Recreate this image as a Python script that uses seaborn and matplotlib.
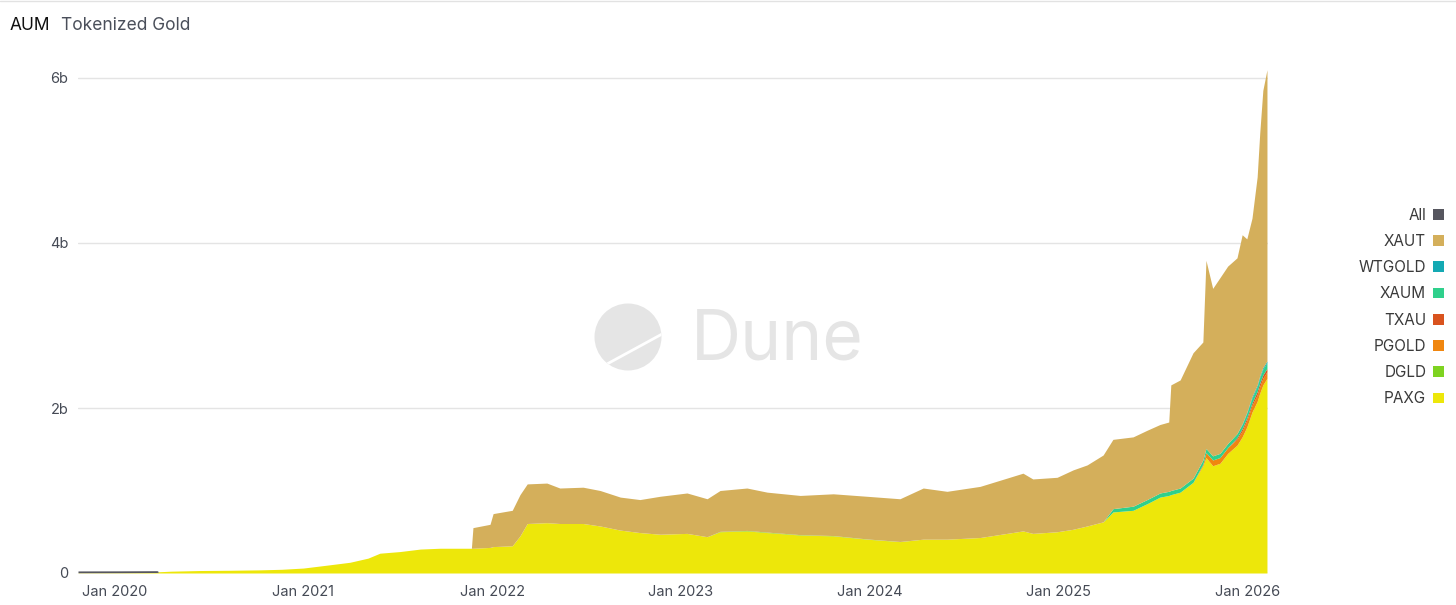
import pandas as pd
import numpy as np
import matplotlib
matplotlib.use("Agg")
import matplotlib.pyplot as plt
import seaborn as sns
from matplotlib.patches import Patch, Circle
from matplotlib.lines import Line2D

# ---------------- data (values in billions USD) ----------------
dates = ["2019-10-23", "2020-01-12", "2020-03-24", "2020-03-27", "2020-04-20", "2020-06-15",
         "2020-08-12", "2020-10-09", "2020-11-20", "2021-01-01", "2021-02-22", "2021-04-01",
         "2021-05-06", "2021-05-29", "2021-07-07", "2021-08-15", "2021-09-22", "2021-11-22",
         "2021-11-25", "2021-12-28", "2022-01-03", "2022-02-09", "2022-02-24", "2022-03-10",
         "2022-04-17", "2022-05-12", "2022-06-26", "2022-07-29", "2022-09-06", "2022-10-14",
         "2022-11-22", "2023-01-13", "2023-02-21", "2023-03-18", "2023-05-09", "2023-06-17",
         "2023-08-20", "2023-10-23", "2023-12-27", "2024-02-29", "2024-04-14", "2024-05-30",
         "2024-08-02", "2024-09-23", "2024-10-24", "2024-11-12", "2024-12-29", "2025-01-29",
         "2025-02-25", "2025-03-28", "2025-04-16", "2025-05-25", "2025-06-21", "2025-07-16",
         "2025-08-02", "2025-08-06", "2025-08-24", "2025-09-18", "2025-10-07", "2025-10-13",
         "2025-10-26", "2025-11-09", "2025-11-24", "2025-12-12", "2025-12-22", "2025-12-31",
         "2026-01-10", "2026-01-20", "2026-01-25", "2026-01-31", "2026-02-08"]

paxg = [0.003, 0.004, 0.006, 0.015, 0.022, 0.030,
        0.033, 0.038, 0.045, 0.060, 0.10, 0.13,
        0.18, 0.24, 0.26, 0.29, 0.30, 0.30,
        0.30, 0.31, 0.32, 0.33, 0.45, 0.60,
        0.61, 0.60, 0.60, 0.57, 0.52, 0.49,
        0.47, 0.48, 0.44, 0.50, 0.51, 0.49,
        0.46, 0.45, 0.41, 0.38, 0.41, 0.41,
        0.43, 0.48, 0.51, 0.48, 0.50, 0.53,
        0.57, 0.62, 0.74, 0.76, 0.84, 0.92,
        0.94, 0.95, 0.98, 1.10, 1.30, 1.40,
        1.30, 1.33, 1.45, 1.55, 1.65, 1.77,
        1.95, 2.08, 2.18, 2.28, 2.36]

dgld = [0] * 33 + [0.005, 0.006, 0.006, 0.005, 0.004, 0.003, 0.002] + [0] * 31

pgold = [0] * 58 + [0.02, 0.06, 0.07, 0.07, 0.07, 0.07, 0.07, 0.08, 0.08, 0.08, 0.08, 0.08, 0.08]

txau = [0] * 63 + [0.02, 0.03, 0.03, 0.03, 0.04, 0.04, 0.04, 0.04]

xaum = [0] * 50 + [0.04, 0.05, 0.05, 0.05, 0.05, 0.05, 0.05, 0.05, 0.05, 0.05,
                   0.05, 0.05, 0.05, 0.05, 0.05, 0.06, 0.06, 0.06, 0.07, 0.07, 0.07]

wtgold = [0] * 64 + [0.01, 0.01, 0.02, 0.02, 0.02, 0.02, 0.02]

xaut = [0] * 18 + [0.25, 0.28, 0.40, 0.43, 0.50, 0.48,
                   0.48, 0.43, 0.44, 0.43, 0.40, 0.40,
                   0.46, 0.49, 0.46, 0.495, 0.514, 0.484,
                   0.475, 0.506, 0.517, 0.518, 0.62, 0.58,
                   0.62, 0.67, 0.70, 0.66, 0.66, 0.72,
                   0.74, 0.81, 0.84, 0.84, 0.84, 0.83,
                   0.84, 1.28, 1.31, 1.52, 1.43, 2.28,
                   2.03, 2.13, 2.15, 2.13, 2.29, 2.10,
                   2.16, 2.52, 2.94, 3.36, 3.53]

all_series = [0.022, 0.022, 0.022] + [0] * 68

series_names = ["PAXG", "DGLD", "PGOLD", "TXAU", "XAUM", "WTGOLD", "XAUT", "All"]
series_colors = ["#ede70a", "#7ed321", "#f0860f", "#d9531e", "#2fd08c", "#14a9b3", "#d4af5b", "#56565f"]

y_ticks = [0, 2, 4, 6]
y_tick_labels = ["0", "2b", "4b", "6b"]
x_tick_years = [2020, 2021, 2022, 2023, 2024, 2025, 2026]

df = pd.DataFrame({"date": pd.to_datetime(dates), "PAXG": paxg, "DGLD": dgld, "PGOLD": pgold,
                   "TXAU": txau, "XAUM": xaum, "WTGOLD": wtgold, "XAUT": xaut, "All": all_series})

# ---------------- styling ----------------
sns.set_theme(style="white")
plt.rcParams["font.family"] = ["Inter", "DejaVu Sans"]

W, H = 1456, 605
fig = plt.figure(figsize=(W / 100, H / 100), dpi=100)
fig.patch.set_facecolor("white")

ax_left, ax_right, ax_bottom, ax_top = 78, 1268, 573, 55
ax = fig.add_axes([ax_left / W, 1 - ax_bottom / H, (ax_right - ax_left) / W, (ax_bottom - ax_top) / H])
ax.set_facecolor("none")

# watermark
circ = Circle((6.28, 2.68), 0.335, transform=fig.dpi_scale_trans, facecolor="#e5e5e5",
              edgecolor="none", zorder=0)
fig.add_artist(circ)
slash = Line2D([5.85, 6.75], [2.29, 2.78], transform=fig.dpi_scale_trans, color="white", lw=2.0, zorder=0.5)
slash.set_clip_path(circ)
fig.add_artist(slash)
fig.text(691 / W, 1 - 360 / H, "Dune", fontsize=50, color="#e5e5e5", ha="left", va="baseline", zorder=0)

ax.stackplot(df["date"], *[df[n] for n in series_names], colors=series_colors, linewidth=0, zorder=2)

ax.set_xlim(df["date"].iloc[0], pd.Timestamp("2026-02-10"))
ax.set_ylim(0, (ax_bottom - ax_top) / 82.5)
ax.set_yticks(y_ticks)
ax.set_yticklabels(y_tick_labels)
ax.set_xticks([pd.Timestamp(f"{y}-01-01") for y in x_tick_years])
ax.set_xticklabels([f"Jan {y}" for y in x_tick_years])
ax.tick_params(axis="both", length=0, labelsize=10.5, labelcolor="#454a55")
ax.tick_params(axis="x", pad=9)
ax.tick_params(axis="y", pad=7)
ax.yaxis.grid(True, color="#e4e4e4", linewidth=1, zorder=1)
ax.xaxis.grid(False)
ax.set_axisbelow(True)
for s in ax.spines.values():
    s.set_visible(False)
ax.set_xlabel("")
ax.set_ylabel("")

# title
fig.text(10 / W, 1 - 25 / H, "AUM", fontsize=12.5, color="#111111", ha="left", va="center")
fig.text(61 / W, 1 - 25 / H, "Tokenized Gold", fontsize=12.5, color="#4a4f5a", ha="left", va="center")

# legend
order = ["All", "XAUT", "WTGOLD", "XAUM", "TXAU", "PGOLD", "DGLD", "PAXG"]
cmap = dict(zip(series_names, series_colors))
handles = [Patch(facecolor=cmap[n], edgecolor="none", label=n) for n in order]
leg = fig.legend(handles=handles, loc="center right", bbox_to_anchor=(1444 / W, 1 - 307 / H),
                 frameon=False, markerfirst=False, handlelength=0.72, handleheight=0.72,
                 handletextpad=0.45, labelspacing=0.735, borderpad=0, borderaxespad=0,
                 fontsize=11, labelcolor="#3a3a3a")

# top border line
fig.add_artist(Line2D([0, 1], [1 - 1 / H, 1 - 1 / H], transform=fig.transFigure, color="#e2e2e2", lw=1))

fig.savefig("out.png", dpi=100, facecolor="white")
